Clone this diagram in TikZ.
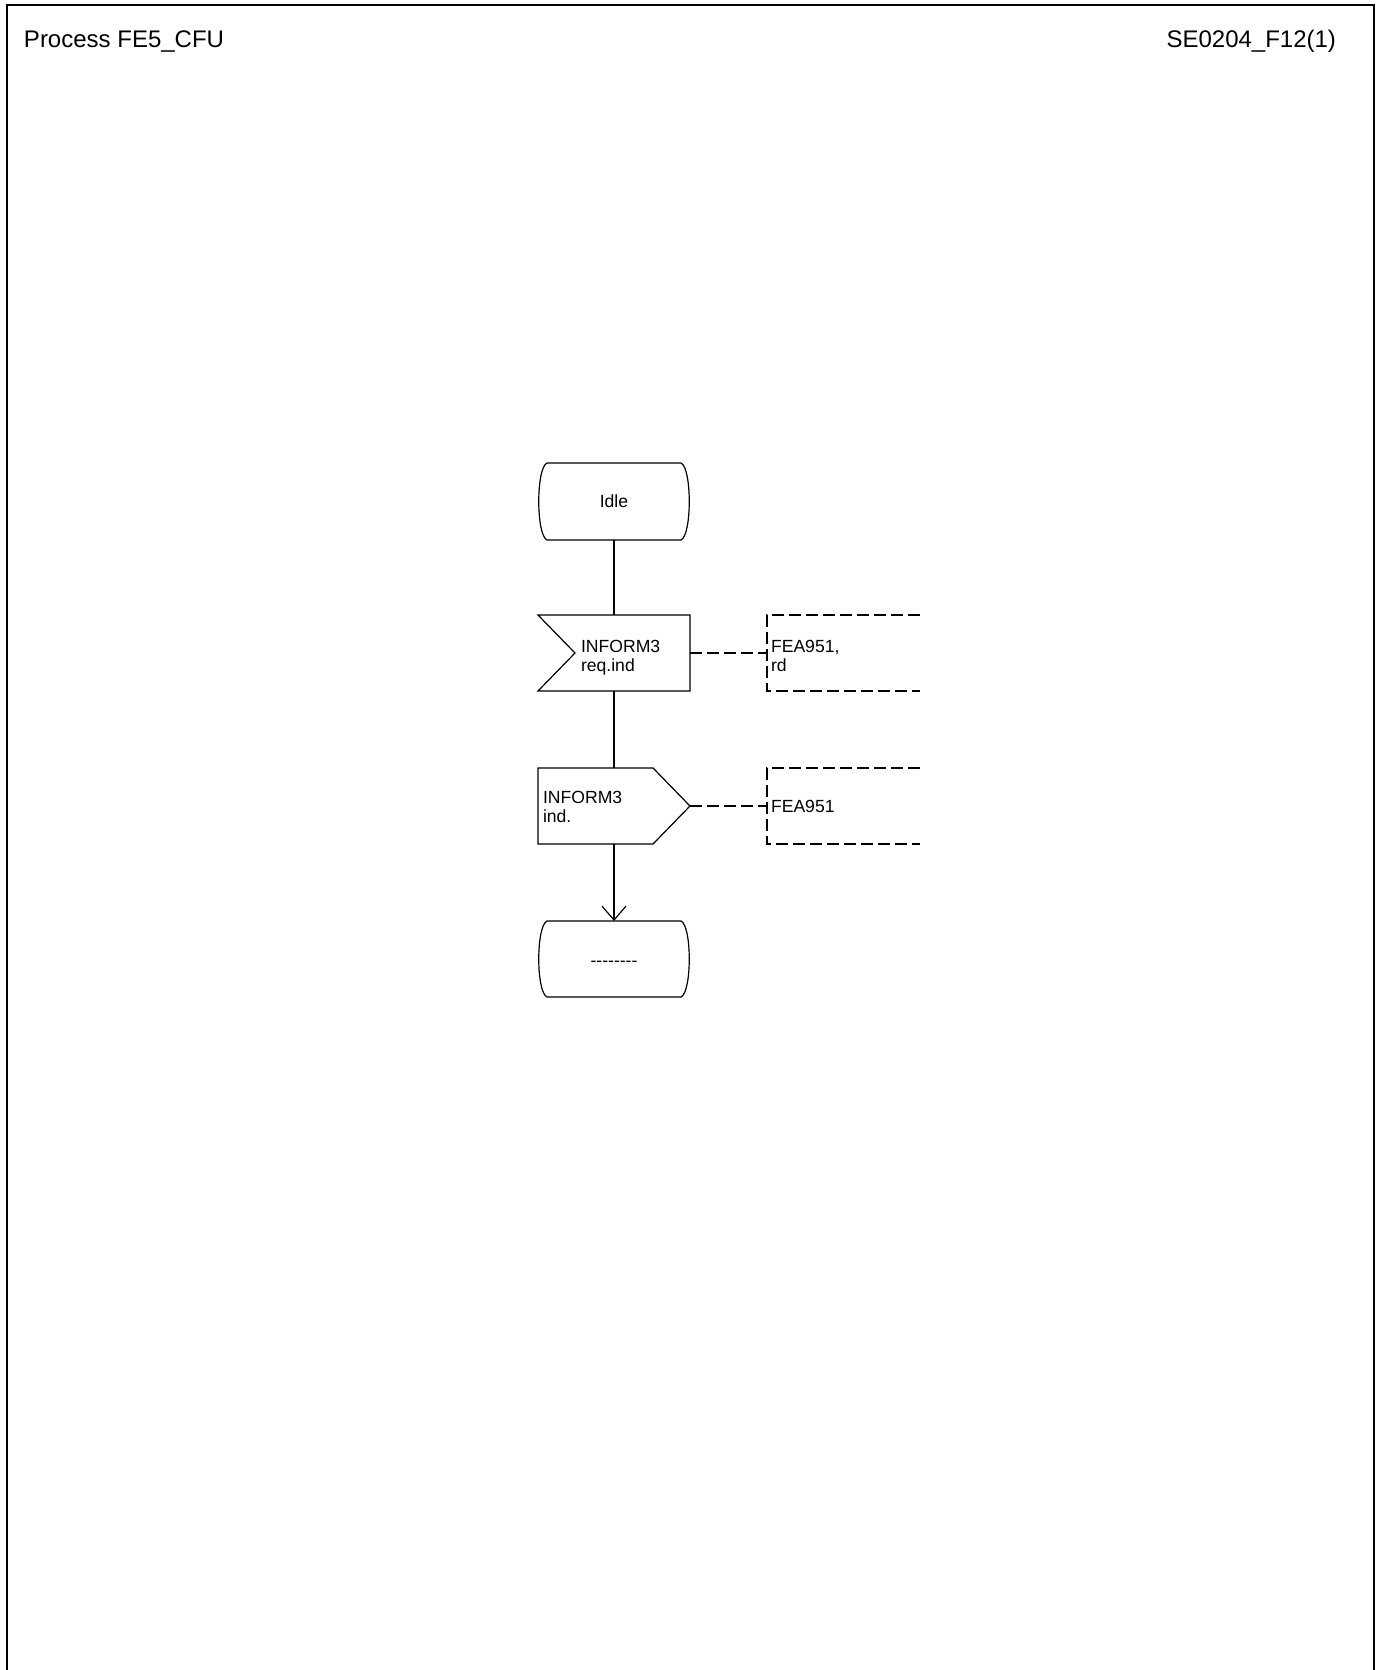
\documentclass[tikz,border=0pt]{standalone}
\usepackage{fontspec}
\setmainfont{Liberation Sans}
\usetikzlibrary{calc,arrows.meta}
\newcommand\mystatepath[1]{%
  \draw ($(#1.north west)+(9,0)$) -- ($(#1.north east)+(-9,0)$)
    .. controls ($(#1.north east)+(2,5)$) and ($(#1.south east)+(2,-5)$) .. ($(#1.south east)+(-9,0)$)
    -- ($(#1.south west)+(9,0)$)
    .. controls ($(#1.south west)+(-2,-5)$) and ($(#1.north west)+(-2,5)$) .. cycle;}
\begin{document}
\begin{tikzpicture}[x=0.5pt,y=-0.5pt, line width=0.6pt,
  shapebox/.style={draw=none, minimum width=76pt, minimum height=38pt, inner sep=0pt, outer sep=0pt},
  cmtbox/.style={draw=none, minimum width=76.5pt, minimum height=38pt, inner sep=0pt, outer sep=0pt},
  txt/.style={inner sep=0pt, outer sep=0pt, font=\fontsize{8.8pt}{9.5pt}\selectfont, align=left},
  hdr/.style={inner sep=0pt, outer sep=0pt, font=\fontsize{12pt}{14pt}\selectfont},
  cmtline/.style={dash pattern=on 6pt off 2.5pt}]
\useasboundingbox (0,0) rectangle (1383,1670);
% frame
\draw[line width=0.8pt] (7,1670) -- (7,5) -- (1374,5) -- (1374,1670);
\node[hdr, anchor=base west] (title) at (24,47) {Process FE5\_CFU};
\node[hdr, anchor=base east] (ref) at (1336,47) {SE0204\_F12(1)};
% shapes
\node[shapebox, minimum height=38.5pt] (idle) at (614,501.5) {};
\node[shapebox] (inp) at (614,653) {};
\node[shapebox] (outp) at (614,806) {};
\node[shapebox] (fin) at (614,959) {};
\mystatepath{idle}
\mystatepath{fin}
\draw (inp.north west) -- (inp.north east) -- (inp.south east) -- (inp.south west) -- ($(inp.west)+(18.5pt,0)$) -- cycle;
\draw (outp.north west) -- ($(outp.north east)+(-18.5pt,0)$) -- (outp.east) -- ($(outp.south east)+(-18.5pt,0)$) -- (outp.south west) -- cycle;
% texts
\node[txt, anchor=base] (idleT) at (614,507) {Idle};
\node[txt, anchor=north west] (inpT) at (581,640.5) {INFORM3\\req.ind};
\node[txt, anchor=north west] (outpT) at (543,791) {INFORM3\\ind.};
\node[txt, anchor=base] (finT) at (614,966) {-\kern0pt-\kern0pt-\kern0pt-\kern0pt-\kern0pt-\kern0pt-\kern0pt-};
% comments
\node[cmtbox] (c1) at (843.5,653) {};
\node[cmtbox] (c2) at (843.5,806) {};
\draw[cmtline] (c1.north east) -- (c1.north west) -- (c1.south west) -- (c1.south east);
\draw[cmtline] (c2.north east) -- (c2.north west) -- (c2.south west) -- (c2.south east);
\node[txt, anchor=north west] (c1T) at (771,640.5) {FEA951,\\rd};
\node[txt, anchor=base west] (c2T) at (771,812) {FEA951};
% connectors
\draw (idle.south) -- (inp.north);
\draw (inp.south) -- (outp.north);
\draw[-{Straight Barb[length=7pt,width=12pt]}] (outp.south) -- (fin.north);
\draw[cmtline] (inp.east) -- (c1.west);
\draw[cmtline] (outp.east) -- (c2.west);
\end{tikzpicture}
\end{document}
